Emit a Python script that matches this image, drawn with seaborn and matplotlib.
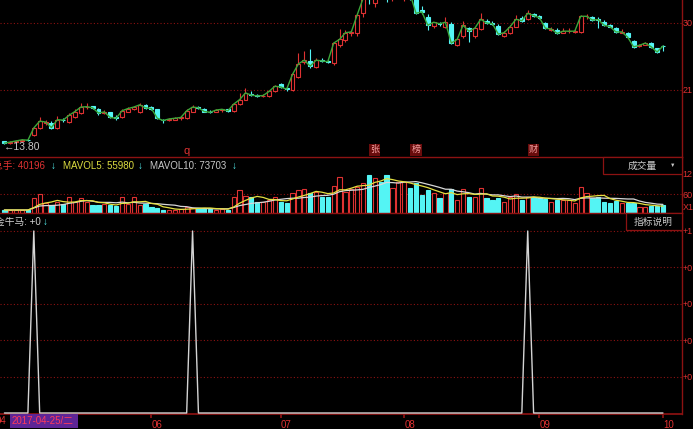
import numpy as np
import pandas as pd
import matplotlib
matplotlib.use("Agg")
import matplotlib.pyplot as plt
import seaborn as sns
from matplotlib.patches import Rectangle

# --- DATEN ---
OPEN = [14.10, 13.90, 14.00, 14.10, 14.30, 14.90, 15.90, 16.50, 16.60, 15.90,
        17.00, 16.70, 17.40, 17.90, 18.70, 18.80, 18.50, 17.95, 18.00, 17.30,
        17.30, 18.10, 18.50, 18.00, 19.00, 18.70, 18.40, 17.00, 16.90, 17.00,
        17.20, 17.20, 18.10, 18.70, 18.50, 18.10, 18.10, 18.30, 18.40, 18.20,
        19.10, 19.70, 20.50, 20.30, 20.20, 20.20, 20.80, 21.80, 21.30, 21.00,
        22.70, 24.80, 24.90, 24.10, 25.00, 24.90, 24.60, 27.00, 27.70, 28.70,
        28.70, 31.30, 33.80, 32.70, 34.50, 34.60, 33.40, 33.50, 33.80, 34.40,
        33.60, 31.80, 30.80, 29.60, 30.00, 29.50, 29.90, 27.10, 28.30, 29.30,
        28.30, 29.20, 30.30, 30.00, 29.60, 28.30, 28.70, 29.50, 30.70, 30.50,
        31.20, 30.90, 30.00, 29.10, 29.10, 28.70, 28.90, 28.80, 28.80, 30.90,
        30.80, 30.60, 30.20, 29.70, 29.30, 28.70, 28.65, 27.60, 26.90, 27.10,
        27.30, 26.60, 26.95]
HIGH = [14.20, 14.10, 14.30, 14.40, 14.40, 16.00, 17.40, 17.00, 16.80, 17.50,
        17.20, 17.90, 18.40, 19.20, 19.20, 18.90, 18.60, 18.30, 18.10, 17.60,
        18.40, 18.70, 18.90, 19.30, 19.10, 18.90, 18.50, 17.10, 17.20, 17.30,
        17.40, 18.40, 19.00, 18.90, 18.60, 18.30, 18.40, 18.50, 18.50, 19.30,
        20.60, 21.30, 20.80, 20.50, 20.40, 20.90, 21.70, 22.00, 21.50, 23.30,
        26.00, 26.30, 26.50, 25.30, 25.30, 25.10, 27.50, 29.20, 29.00, 29.10,
        31.30, 33.50, 34.50, 34.80, 35.00, 35.10, 34.40, 34.80, 34.90, 34.60,
        33.90, 32.30, 31.20, 30.20, 30.20, 30.80, 30.10, 28.00, 30.30, 29.50,
        29.50, 31.30, 30.50, 30.30, 29.80, 28.90, 29.70, 31.10, 30.90, 31.70,
        31.40, 31.10, 30.20, 29.50, 29.30, 29.30, 29.30, 29.20, 31.10, 31.20,
        30.90, 30.80, 30.40, 29.90, 29.40, 29.20, 28.80, 27.70, 27.20, 27.40,
        27.40, 26.70, 27.00]
LOW = [13.80, 13.80, 13.95, 14.00, 14.10, 14.85, 15.80, 16.30, 15.80, 15.70,
       16.70, 16.50, 17.20, 17.80, 18.50, 18.40, 17.70, 17.80, 17.20, 16.90,
       17.20, 18.00, 18.30, 17.90, 18.50, 18.30, 17.10, 16.60, 16.80, 16.90,
       17.00, 17.10, 18.00, 18.40, 18.00, 17.90, 18.00, 18.10, 18.10, 18.10,
       19.00, 19.60, 20.20, 20.00, 20.00, 20.10, 20.70, 21.30, 20.90, 20.90,
       22.60, 24.50, 24.00, 23.90, 24.70, 24.60, 24.40, 26.80, 27.50, 28.30,
       28.20, 30.80, 32.50, 32.20, 33.60, 32.80, 33.00, 33.30, 32.90, 33.10,
       31.20, 31.20, 29.10, 29.30, 29.60, 29.30, 27.20, 26.90, 28.00, 27.40,
       28.00, 29.00, 29.80, 29.70, 28.40, 28.10, 28.50, 29.40, 30.20, 30.40,
       30.80, 30.50, 29.20, 28.90, 28.50, 28.60, 28.70, 28.60, 28.70, 30.60,
       30.30, 29.30, 29.60, 29.40, 28.70, 28.60, 28.00, 26.70, 26.80, 27.00,
       26.70, 26.00, 26.30]
CLOSE = [13.85, 14.00, 14.15, 14.30, 14.25, 15.90, 16.80, 16.70, 15.95, 17.00,
         16.95, 17.60, 18.10, 18.70, 18.75, 18.60, 17.90, 18.05, 17.30, 17.20,
         18.20, 18.50, 18.70, 19.00, 18.60, 18.50, 17.20, 16.90, 17.10, 17.20,
         17.30, 18.20, 18.70, 18.60, 18.10, 18.00, 18.30, 18.40, 18.20, 19.10,
         19.70, 20.60, 20.30, 20.20, 20.25, 20.80, 21.50, 21.40, 21.10, 23.10,
         24.50, 25.00, 24.20, 25.00, 24.90, 24.80, 27.30, 27.80, 28.70, 28.80,
         31.10, 33.30, 33.40, 34.20, 34.20, 33.90, 33.90, 34.40, 34.40, 33.90,
         31.30, 31.50, 29.70, 30.10, 29.90, 30.10, 27.30, 27.80, 29.70, 28.90,
         29.30, 30.50, 30.00, 29.90, 28.50, 28.70, 29.50, 30.50, 30.30, 31.30,
         31.00, 30.70, 29.30, 29.20, 28.60, 28.90, 28.90, 28.90, 30.90, 30.90,
         30.40, 30.45, 29.70, 29.50, 28.80, 28.80, 28.10, 26.80, 27.00, 27.30,
         26.80, 26.10, 26.90]
VOLUME = [9500, 9500, 9500, 9500, 9500, 47400, 60000, 31600, 25300, 34700,
          28400, 50500, 34700, 47400, 34700, 25300, 25300, 28400, 25300, 22100,
          50500, 28400, 50500, 25300, 28400, 19000, 15800, 9500, 9500, 9500,
          12600, 19000, 15800, 15800, 15800, 12600, 9500, 12600, 9500, 50500,
          72600, 53700, 50500, 34700, 34700, 41100, 50500, 34700, 31600, 63200,
          72600, 75800, 63200, 66300, 50500, 50500, 85300, 113700, 66300, 75800,
          82100, 94700, 120000, 110500, 97900, 120000, 79000, 97900, 97900, 79000,
          94700, 56800, 72600, 63200, 47400, 63200, 75800, 41100, 75800, 50500,
          50500, 79000, 47400, 41100, 47400, 34700, 50500, 60000, 41100, 50500,
          50500, 47400, 44200, 34700, 41100, 41100, 41100, 31600, 82100, 63200,
          47400, 50500, 34700, 31600, 37900, 31600, 31600, 31600, 19000, 19000,
          22100, 22100, 25300]
SIGNAL_BARS = [5, 32, 89]
MONTH_BARS = [25, 47, 68, 91, 112]
MONTH_LABELS = ["06", "07", "08", "09", "10"]
PRICE_TICKS = [30, 21]
PRICE_LABELS = ["30", "21"]
VOL_TICKS = [126000, 60000]
VOL_LABELS = ["12", "60"]
IND_TICKS = [1.0, 0.8, 0.6, 0.4, 0.2]
IND_LABELS = ["+1", "+0", "+0", "+0", "+0"]
MARKS = [("q", 31), ("张", 63), ("榜", 70), ("财", 90)]

RED = "#e03232"
CYAN = "#54f4f4"
DARKRED = "#8c1212"
W, H = 693, 429

sns.set_theme(style="dark", rc={"axes.facecolor": "black", "figure.facecolor": "black"})
plt.rcParams["font.family"] = ["Liberation Sans", "Noto Sans CJK SC", "DejaVu Sans"]


def fy(py):
    return 1 - py / H


df = pd.DataFrame({"o": OPEN, "h": HIGH, "l": LOW, "c": CLOSE, "v": VOLUME})
df["x"] = np.arange(len(df))
df["up"] = df["c"] >= df["o"]
df["top"] = df[["o", "c"]].max(axis=1)
df["bot"] = df[["o", "c"]].min(axis=1)
df["hgt"] = (df["top"] - df["bot"]).clip(lower=0.05)
df["ma5"] = df["v"].rolling(5, min_periods=1).mean()
df["ma10"] = df["v"].rolling(10, min_periods=1).mean()
sig = np.zeros(len(df))
sig[SIGNAL_BARS] = 1.0
df["sig"] = sig

fig = plt.figure(figsize=(W / 100, H / 100), dpi=100)
RIGHT = 681.5 / W
XLIM = (-4.4 / 5.88, (681.5 - 4.4) / 5.88)

ax_p = fig.add_axes([0, fy(157), RIGHT, 157 / H])
ax_v = fig.add_axes([0, fy(213), RIGHT, 56 / H])
ax_i = fig.add_axes([0, fy(414), RIGHT, 201 / H])

for ax in (ax_p, ax_v, ax_i):
    ax.set_facecolor("black")
    ax.set_xlim(*XLIM)
    for s in ax.spines.values():
        s.set_visible(False)
    ax.spines["right"].set_visible(True)
    ax.spines["right"].set_color(DARKRED)
    ax.spines["right"].set_linewidth(1.0)
    ax.yaxis.tick_right()
    ax.tick_params(axis="y", length=0, pad=0.6, labelcolor=RED, labelsize=6.5)
for ax in (ax_v, ax_i):
    ax.spines["top"].set_visible(True)
    ax.spines["top"].set_color(DARKRED)
    ax.spines["top"].set_linewidth(1.0)

# --- Kurs ---
ax_p.set_ylim(11.99, 33.09)
for p in PRICE_TICKS:
    ax_p.axhline(p, color=DARKRED, lw=0.8, ls=(0, (1, 2)), zorder=1)
for mask, fc, ec in [(df["up"], "black", RED), (~df["up"], CYAN, CYAN)]:
    d = df[mask]
    ax_p.vlines(d["x"], d["top"], d["h"], color=ec, lw=0.8, zorder=2)
    ax_p.vlines(d["x"], d["l"], d["bot"], color=ec, lw=0.8, zorder=2)
    ax_p.bar(d["x"], d["hgt"], bottom=d["bot"], width=0.66, facecolor=fc,
             edgecolor=ec, linewidth=0.8, zorder=3)
sns.lineplot(data=df, x="x", y="c", ax=ax_p, color="#3aa83a", lw=1.0, zorder=4)
ax_p.set_xticks([])
ax_p.set_yticks(PRICE_TICKS, PRICE_LABELS)
ax_p.set_xlabel("")
ax_p.set_ylabel("")
fig.text(4 / W, fy(147), "\u2190" + "13.80", color="#c8c8c8", fontsize=7.5, va="center")
for txt, xb in MARKS:
    if txt == "q":
        ax_p.text(xb, 0.04, txt, transform=ax_p.get_xaxis_transform(), color=RED,
                  fontsize=8, ha="center", va="center")
    else:
        ax_p.text(xb, 0.045, txt, transform=ax_p.get_xaxis_transform(), color="#f4a0a0",
                  fontsize=6.5, ha="center", va="center",
                  bbox=dict(boxstyle="square,pad=0.12", fc="#6a0c0c", ec="none"))

# --- Volumen ---
ax_v.set_ylim(0, 56 * 3158)
ax_v.axhline(60000, color=DARKRED, lw=0.8, ls=(0, (1, 2)), zorder=1)
for mask, fc, ec in [(df["up"], "black", RED), (~df["up"], CYAN, CYAN)]:
    d = df[mask]
    ax_v.bar(d["x"], d["v"], width=0.72, facecolor=fc, edgecolor=ec, linewidth=0.8, zorder=2)
sns.lineplot(data=df, x="x", y="ma10", ax=ax_v, color="#d8d8d8", lw=0.9, zorder=3)
sns.lineplot(data=df, x="x", y="ma5", ax=ax_v, color="#e4e040", lw=0.9, zorder=4)
ax_v.set_xticks([])
ax_v.set_yticks(VOL_TICKS, VOL_LABELS)
ax_v.set_xlabel("")
ax_v.set_ylabel("")
fig.text(682.5 / W, fy(207), "X1", color=RED, fontsize=6.5, va="center")

# --- Indikator ---
ax_i.set_ylim(-1 / 182, 200 / 182)
for t in IND_TICKS:
    ax_i.axhline(t, color=DARKRED, lw=0.8, ls=(0, (1, 2)), zorder=1)
sns.lineplot(data=df, x="x", y="sig", ax=ax_i, color="#d4d4d4", lw=1.0, zorder=3)
ax_i.set_yticks(IND_TICKS, IND_LABELS)
ax_i.set_xlabel("")
ax_i.set_ylabel("")
ax_i.spines["bottom"].set_visible(True)
ax_i.spines["bottom"].set_color(DARKRED)
ax_i.set_xticks(MONTH_BARS, MONTH_LABELS)
ax_i.tick_params(axis="x", length=3, color=DARKRED, labelcolor=RED, labelsize=7,
                 pad=1.0, direction="out", bottom=True)
for lbl in ax_i.get_xticklabels():
    lbl.set_ha("left")

# --- Kopfzeilen ---
fs = 7
fig.text(-7 / W, fy(166), "总手: 40196", color=RED, fontsize=fs, va="center")
fig.text(51 / W, fy(166), "\u2193", color=CYAN, fontsize=fs, va="center")
fig.text(63 / W, fy(166), "MAVOL5: 55980", color="#dcdc40", fontsize=fs, va="center")
fig.text(138 / W, fy(166), "\u2193", color=CYAN, fontsize=fs, va="center")
fig.text(150 / W, fy(166), "MAVOL10: 73703", color="#c8c8c8", fontsize=fs, va="center")
fig.text(232 / W, fy(166), "\u2193", color=CYAN, fontsize=fs, va="center")
fig.text(-5 / W, fy(222), "金牛马: +0", color="#d0d0d0", fontsize=fs, va="center")
fig.text(43 / W, fy(222), "\u2193", color=CYAN, fontsize=fs, va="center")

box1 = Rectangle((603 / W, fy(174)), 78.5 / W, 17 / H, transform=fig.transFigure,
                 fc="black", ec=DARKRED, lw=0.9, zorder=5)
fig.add_artist(box1)
fig.text(642 / W, fy(166), "成交量", color="#c8c8c8", fontsize=fs, ha="center", va="center", zorder=6)
fig.text(673 / W, fy(165), "\u25bc", color="#c8c8c8", fontsize=4, ha="center", va="center", zorder=6)
box2 = Rectangle((626 / W, fy(230)), 55.5 / W, 17 / H, transform=fig.transFigure,
                 fc="black", ec=DARKRED, lw=0.9, zorder=5)
fig.add_artist(box2)
fig.text(653 / W, fy(221.5), "指标说明", color="#c8c8c8", fontsize=fs, ha="center", va="center", zorder=6)

# --- Datumszeile ---
fig.text(6 / W, fy(421.5), "04", color=RED, fontsize=fs, ha="right", va="center")
cur = Rectangle((10 / W, fy(428)), 68 / W, 14 / H, transform=fig.transFigure,
                fc="#5e2596", ec="none", zorder=5)
fig.add_artist(cur)
fig.text(12 / W, fy(421.5), "2017-04-25/二", color="#ff3a5c", fontsize=fs, va="center", zorder=6)

fig.savefig("out.png", dpi=100, facecolor="black")
